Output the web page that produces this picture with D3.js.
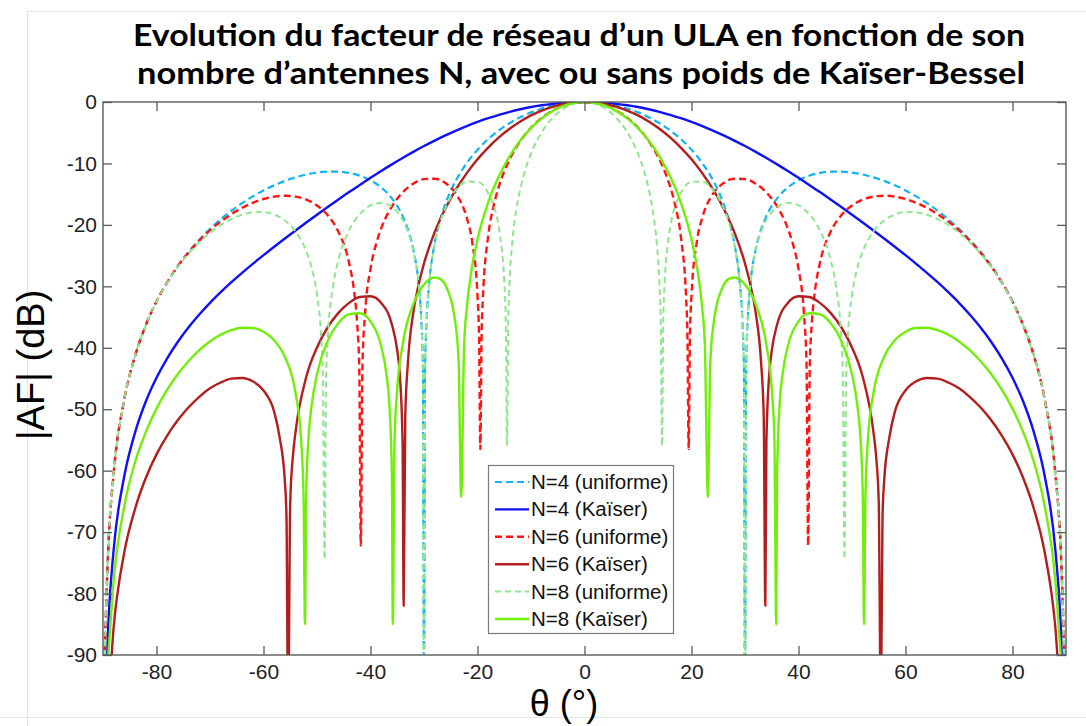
<!DOCTYPE html>
<html><head><meta charset="utf-8">
<script src="https://cdn.jsdelivr.net/npm/d3@7"></script>
<style>body{margin:0;background:#fff} svg{display:block}</style>
</head><body>
<svg id="chart" width="1086" height="726"></svg>
<script>
// ---------- DATA (the pattern is symmetric about θ = 0, so θ ≥ 0 is listed) ----------
const titleLines = ["Evolution du facteur de réseau d’un ULA en fonction de son",
                    "nombre d’antennes N, avec ou sans poids de Kaïser-Bessel"];
const xLabel = "θ (°)";
const yLabel = "|AF| (dB)";
const xTicks = [-80, -60, -40, -20, 0, 20, 40, 60, 80];
const yTicks = [0, -10, -20, -30, -40, -50, -60, -70, -80, -90];
const seriesNames = ["N=4 (uniforme)", "N=4 (Kaïser)", "N=6 (uniforme)", "N=6 (Kaïser)", "N=8 (uniforme)", "N=8 (Kaïser)"];

const n4uTheta = [0,2,4,6,8,10,12,14,16,18,20,22,24,25,26,27,28,29,29.5,29.8,30,30.2,30.5,31,32,33,34,36,38,40,42,44,46,48,50,52,54,56,58,60,62,64,66,68,70,72,74,76,78,80,82,84,86,88,89,89.5,90];
const n4uDb    = [0,-0.07,-0.26,-0.6,-1.07,-1.69,-2.48,-3.44,-4.61,-6.03,-7.76,-9.92,-12.7,-14.44,-16.56,-19.26,-22.99,-29.24,-35.37,-43.39,-100,-43.5,-35.62,-29.74,-23.99,-20.76,-18.56,-15.69,-13.9,-12.74,-11.99,-11.54,-11.33,-11.32,-11.49,-11.8,-12.26,-12.84,-13.56,-14.39,-15.36,-16.46,-17.7,-19.08,-20.64,-22.4,-24.38,-26.66,-29.31,-32.46,-36.32,-41.31,-48.3,-60.4,-72.4,-84.5,-100];

const n4kTheta = [0,2,4,6,8,10,12,14,16,18,20,22,24,26,28,30,32,34,36,38,40,42,44,46,48,50,52,54,56,58,60,62,64,66,68,70,72,74,76,78,80,82,84,86,88,89,89.5,90];
const n4kDb    = [0,-0.03,-0.13,-0.3,-0.53,-0.82,-1.18,-1.6,-2.09,-2.64,-3.25,-3.92,-4.65,-5.44,-6.28,-7.17,-8.12,-9.11,-10.15,-11.22,-12.34,-13.49,-14.66,-15.87,-17.1,-18.35,-19.62,-20.91,-22.22,-23.56,-24.93,-26.34,-27.8,-29.33,-30.96,-32.69,-34.59,-36.67,-39.02,-41.71,-44.88,-48.75,-53.77,-60.8,-72.8,-84.9,-97,-100];

const n6uTheta = [0,2,4,6,8,10,12,14,15,16,17,18,19,19.25,19.47,19.7,20,21,22,24,26,28,30,32,34,36,38,39,40,41,41.5,41.81,42.1,42.5,43,44,46,48,50,52,54,56,58,60,62,64,66,68,70,72,74,76,78,80,82,84,86,88,89,89.5,90];
const n6uDb    = [0,-0.15,-0.62,-1.41,-2.58,-4.19,-6.36,-9.35,-11.3,-13.74,-16.98,-21.82,-32.08,-38.73,-56.5,-38.64,-31.49,-22.73,-18.87,-14.98,-13.18,-12.48,-12.55,-13.29,-14.72,-16.99,-20.57,-23.25,-27.14,-34.25,-42.65,-72.2,-43.37,-35.91,-31.26,-26.21,-21.13,-18.44,-16.84,-15.89,-15.4,-15.25,-15.4,-15.79,-16.4,-17.22,-18.25,-19.47,-20.9,-22.57,-24.49,-26.73,-29.35,-32.47,-36.32,-41.31,-48.3,-60.4,-72.4,-84.5,-100];

const n6kTheta = [0,2,4,6,8,10,12,14,16,18,20,22,24,26,28,30,31,32,33,33.5,33.8,34,34.5,35,36,38,40,42,44,46,48,50,52,54,54.5,55,55.4,55.7,56,57,58,60,62,64,66,68,70,72,74,76,78,80,82,84,86,88,89,90];
const n6kDb    = [0,-0.09,-0.34,-0.78,-1.39,-2.18,-3.17,-4.36,-5.77,-7.42,-9.33,-11.57,-14.19,-17.32,-21.18,-26.28,-29.72,-34.3,-42.34,-51.1,-82,-55.4,-44.63,-40.47,-36.21,-32.71,-31.62,-31.74,-32.69,-34.32,-36.66,-39.96,-44.72,-53.64,-57.6,-65.1,-100,-67.7,-61.8,-54.5,-50.43,-46.95,-45.46,-44.91,-45.03,-45.65,-46.59,-47.98,-49.68,-51.77,-54.29,-57.35,-61.2,-66.2,-73.2,-85.4,-97,-100];

const n8uTheta = [0,2,4,6,8,10,11,12,12.5,13,13.5,14,14.25,14.48,14.7,15,15.5,16,18,20,22,24,26,27,28,29,29.5,29.8,30,30.2,30.5,31,32,33,34,36,38,40,42,44,46,47,48,48.3,48.59,48.9,49.2,50,51,52,54,56,58,60,62,64,66,68,70,72,74,76,78,80,82,84,86,88,89,89.5,90];
const n8uDb    = [0,-0.28,-1.13,-2.62,-4.92,-8.41,-10.85,-14.13,-16.28,-19.03,-22.86,-29.33,-35.9,-56,-36.35,-29.13,-23.62,-20.51,-14.85,-13.01,-12.95,-14.28,-17.23,-19.62,-23.15,-29.28,-35.39,-43.39,-100,-43.5,-35.64,-29.78,-24.14,-21.1,-19.17,-17.08,-16.43,-16.83,-18.24,-20.89,-25.69,-29.94,-38.64,-44.84,-74.4,-44.5,-38.54,-31.43,-27.03,-24.32,-21.07,-19.28,-18.32,-17.92,-17.96,-18.35,-19.05,-20.02,-21.28,-22.81,-24.64,-26.82,-29.39,-32.5,-36.33,-41.3,-48.3,-60.4,-72.4,-84.5,-100];

const n8kTheta = [0,2,4,6,8,10,12,14,16,18,20,21,22,22.5,23.06,23.5,24,26,27,28,29,30,32,34,35,35.5,35.83,36,36.5,37,38,40,42,44,46,48,50,51,51.5,52,52.25,52.5,53,54,56,58,60,62,64,66,68,70,72,74,76,78,80,82,84,86,88,89,90];
const n8kDb    = [0,-0.16,-0.65,-1.48,-2.67,-4.26,-6.28,-8.85,-12.1,-16.35,-22.37,-26.74,-33.53,-39.61,-64.3,-42.9,-36.9,-29.77,-28.78,-28.57,-28.88,-29.7,-32.91,-39.53,-46.65,-55,-85,-60.6,-48.9,-44.45,-39.76,-35.72,-34.39,-34.54,-35.98,-38.88,-44.29,-49.35,-53.6,-63.3,-85,-64.6,-54.6,-47.45,-41.49,-38.77,-37.38,-36.77,-36.73,-37.13,-37.86,-38.97,-40.39,-42.16,-44.27,-46.81,-49.9,-53.72,-58.6,-65.7,-77.8,-89.8,-100];

// ---------- STYLE ----------
const styles = [
  {color: "#12b4f2", width: 2.2, dash: "7,4"},
  {color: "#1010f5", width: 2.4, dash: null},
  {color: "#ff1414", width: 2.4, dash: "7,4"},
  {color: "#b21e1e", width: 2.4, dash: null},
  {color: "#8fe68f", width: 2.0, dash: "6,4"},
  {color: "#72ee0a", width: 2.4, dash: null}
];
const halfData = [[n4uTheta, n4uDb], [n4kTheta, n4kDb], [n6uTheta, n6uDb], [n6kTheta, n6kDb], [n8uTheta, n8uDb], [n8kTheta, n8kDb]];

function mirror(th, db) {
  const pts = [];
  for (let i = th.length - 1; i > 0; i--) pts.push([-th[i], db[i]]);
  for (let i = 0; i < th.length; i++) pts.push([th[i], db[i]]);
  return pts;
}

const svg = d3.select("#chart");
const W = 1086, H = 726;
const L = 103, R = 1066, T = 102, B = 655;
const x = d3.scaleLinear().domain([-90, 90]).range([L, R]);
const y = d3.scaleLinear().domain([-90, 0]).range([B, T]);
const font = "'Liberation Sans', Arial, sans-serif";

// faint slide borders
const faint = svg.append("g").attr("stroke", "#e4e4e4").attr("stroke-width", 1);
faint.append("line").attr("x1", 27).attr("x2", W).attr("y1", 11.5).attr("y2", 11.5);
faint.append("line").attr("x1", 27.5).attr("x2", 27.5).attr("y1", 11).attr("y2", H);
faint.append("line").attr("x1", 0).attr("x2", W).attr("y1", 717.5).attr("y2", 717.5);

// title
const tg = svg.append("g");
const titleTargets = [{cx: 579, y: 46, w: 892}, {cx: 581, y: 84, w: 888}];
titleLines.forEach((t, i) => {
  const el = tg.append("text")
    .attr("x", titleTargets[i].cx).attr("y", titleTargets[i].y)
    .attr("text-anchor", "middle")
    .attr("font-family", "Lato, 'Open Sans', sans-serif")
    .attr("font-weight", 700).attr("font-size", 31)
    .attr("fill", "#000").text(t);
  const len = el.node().getComputedTextLength();
  if (Math.abs(len - titleTargets[i].w) > 4) {
    el.attr("textLength", titleTargets[i].w).attr("lengthAdjust", "spacingAndGlyphs");
  }
});

// clip
svg.append("defs").append("clipPath").attr("id", "plotclip")
  .append("rect").attr("x", L).attr("y", T).attr("width", R - L).attr("height", B - T);

// curves
const line = d3.line().x(d => x(d[0])).y(d => y(Math.max(d[1], -110))).curve(d3.curveMonotoneX);
const cg = svg.append("g").attr("clip-path", "url(#plotclip)");
halfData.forEach((hd, i) => {
  const s = styles[i];
  cg.append("path").datum(mirror(hd[0], hd[1]))
    .attr("d", line).attr("fill", "none")
    .attr("stroke", s.color).attr("stroke-width", s.width)
    .attr("stroke-linejoin", "round")
    .attr("stroke-dasharray", s.dash);
});

// axes (ticks pointing inward on all four sides)
const axisColor = "#5a5a5a";
function styleAxis(g) {
  g.select(".domain").remove();
  g.selectAll(".tick line").attr("stroke", axisColor).attr("stroke-width", 1.3);
  g.selectAll(".tick text").attr("font-family", font).attr("font-size", 21).attr("fill", "#222");
}
svg.append("g").attr("transform", `translate(0,${B})`)
  .call(d3.axisBottom(x).tickValues(xTicks).tickSizeInner(-9).tickSizeOuter(0).tickPadding(9).tickFormat(d => String(d)))
  .call(styleAxis);
svg.append("g").attr("transform", `translate(0,${T})`)
  .call(d3.axisTop(x).tickValues(xTicks).tickSizeInner(-9).tickSizeOuter(0).tickFormat(""))
  .call(styleAxis);
svg.append("g").attr("transform", `translate(${L},0)`)
  .call(d3.axisLeft(y).tickValues(yTicks).tickSizeInner(-9).tickSizeOuter(0).tickPadding(6).tickFormat(d => String(d)))
  .call(styleAxis);
svg.append("g").attr("transform", `translate(${R},0)`)
  .call(d3.axisRight(y).tickValues(yTicks).tickSizeInner(-9).tickSizeOuter(0).tickFormat(""))
  .call(styleAxis);
svg.append("rect").attr("x", L).attr("y", T).attr("width", R - L).attr("height", B - T)
  .attr("fill", "none").attr("stroke", axisColor).attr("stroke-width", 1.4);

// axis labels
svg.append("text").attr("x", 564).attr("y", 716).attr("text-anchor", "middle")
  .attr("font-family", font).attr("font-size", 36).attr("fill", "#000").text(xLabel);
svg.append("text").attr("transform", "translate(44,365) rotate(-90)").attr("text-anchor", "middle")
  .attr("font-family", font).attr("font-size", 38).attr("fill", "#000").text(yLabel);

// legend
const lg = svg.append("g");
lg.append("rect").attr("x", 488.5).attr("y", 465.5).attr("width", 185).attr("height", 168)
  .attr("fill", "#fff").attr("stroke", "#7a7a7a").attr("stroke-width", 1.2);
seriesNames.forEach((n, i) => {
  const yy = 482 + i * 27.4;
  const s = styles[i];
  lg.append("line").attr("x1", 495).attr("x2", 529).attr("y1", yy).attr("y2", yy)
    .attr("stroke", s.color).attr("stroke-width", s.width).attr("stroke-dasharray", s.dash);
  lg.append("text").attr("x", 531).attr("y", yy + 7).attr("font-family", font)
    .attr("font-size", 20.5).attr("fill", "#111").text(n);
});
</script>
</body></html>
